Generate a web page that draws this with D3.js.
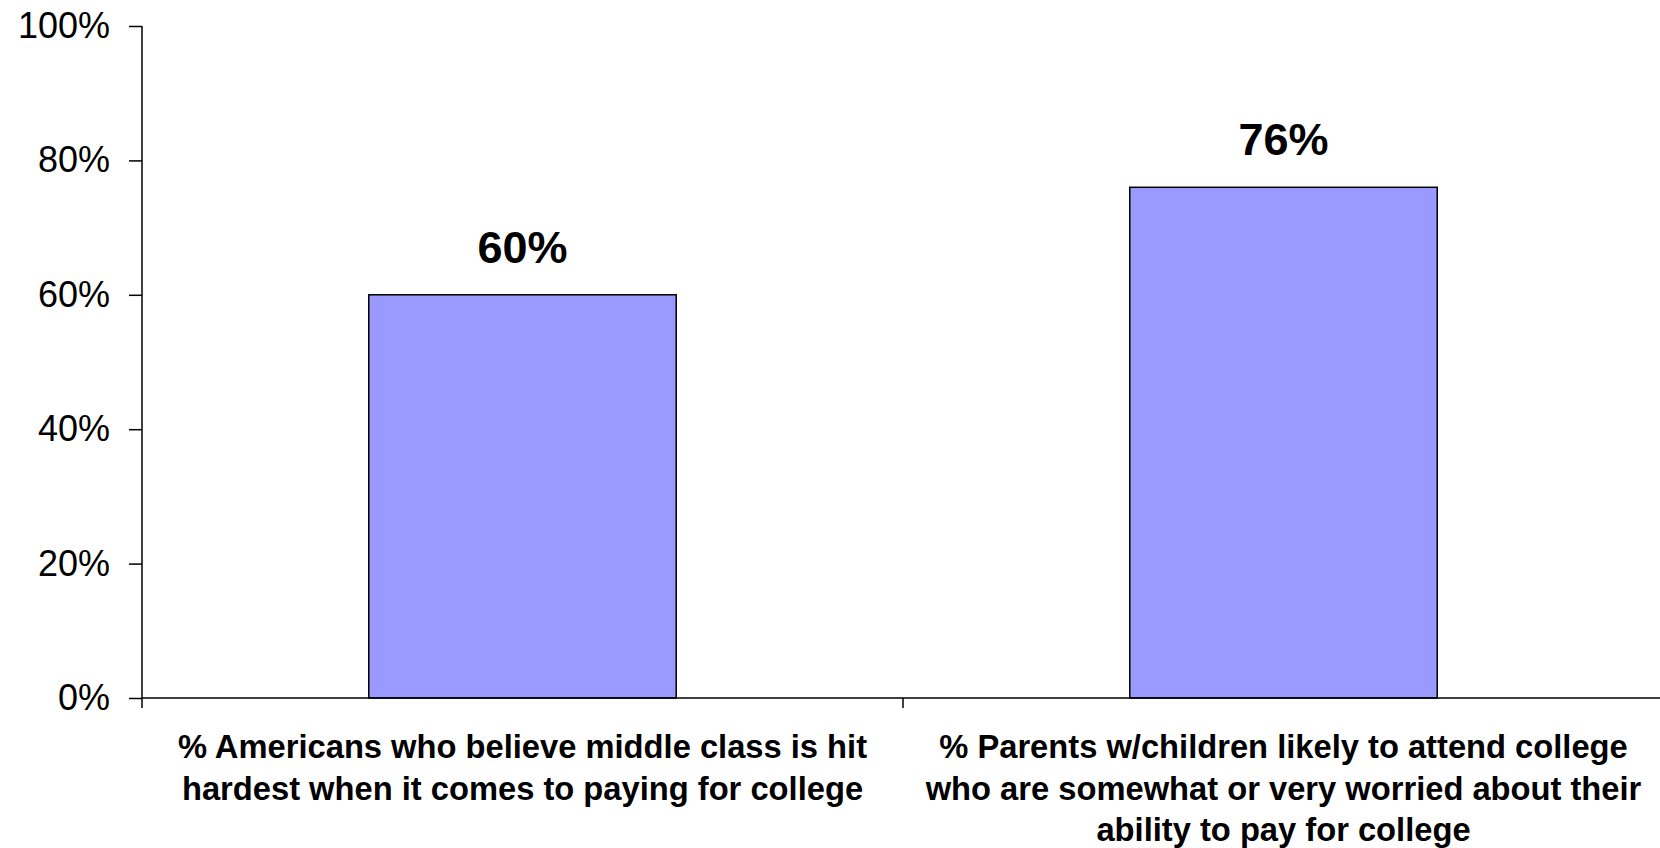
<!DOCTYPE html>
<html>
<head>
<meta charset="utf-8">
<script src="https://cdn.jsdelivr.net/npm/d3@7"></script>
<style>
  body { margin: 0; background: #fff; }
  svg { display: block; font-family: "Liberation Sans", Arial, sans-serif; }
</style>
</head>
<body>
<svg id="chart" width="1660" height="848"></svg>
<script>
// data
const categories = [
    ["% Americans who believe middle class is hit", "hardest when it comes to paying for college"],
    ["% Parents w/children likely to attend college", "who are somewhat or very worried about their", "ability to pay for college"]
];
const values = [0.60, 0.76];
const yTicks = [0, 0.2, 0.4, 0.6, 0.8, 1.0];

const svg = d3.select("#chart");
const plotLeft = 142, plotRight = 1664, plotTop = 26, plotBottom = 698;

const x = d3.scaleBand()
    .domain(d3.range(values.length))
    .range([plotLeft, plotRight])
    .paddingInner(0.596)
    .paddingOuter(0.298);

const y = d3.scaleLinear()
    .domain([0, 1])
    .range([plotBottom, plotTop]);

// y axis
const yAxis = svg.append("g")
    .attr("transform", `translate(${plotLeft},0)`)
    .call(d3.axisLeft(y).tickValues(yTicks).tickFormat(d3.format(".0%")).tickSize(13).tickPadding(19));
yAxis.select(".domain").attr("d", `M0,${plotTop}V${plotBottom + 10}`).attr("stroke-width", 1.5);
yAxis.selectAll(".tick line").attr("stroke-width", 1.5);
yAxis.selectAll(".tick text")
    .attr("font-size", 36)
    .attr("font-family", "Liberation Sans, Arial, sans-serif")
    .attr("fill", "#000");

// bars
svg.append("g")
    .selectAll("rect")
    .data(values)
    .enter().append("rect")
    .attr("x", (d, i) => x(i))
    .attr("y", d => y(d))
    .attr("width", x.bandwidth())
    .attr("height", d => y(0) - y(d))
    .attr("fill", "#9999ff")
    .attr("stroke", "#000")
    .attr("stroke-width", 1.5);

// x axis line and separators
const step = x.step();
svg.append("line")
    .attr("x1", plotLeft).attr("x2", plotRight)
    .attr("y1", plotBottom).attr("y2", plotBottom)
    .attr("stroke", "#000").attr("stroke-width", 1.5);
svg.append("g")
    .selectAll("line")
    .data(d3.range(1, values.length))
    .enter().append("line")
    .attr("x1", i => plotLeft + i * step).attr("x2", i => plotLeft + i * step)
    .attr("y1", plotBottom).attr("y2", plotBottom + 10)
    .attr("stroke", "#000").attr("stroke-width", 1.5);

// value labels
svg.append("g")
    .selectAll("text")
    .data(values)
    .enter().append("text")
    .attr("x", (d, i) => x(i) + x.bandwidth() / 2)
    .attr("y", d => y(d) - 32)
    .attr("text-anchor", "middle")
    .attr("font-size", 45)
    .attr("font-weight", "bold")
    .text(d => d3.format(".0%")(d));

// category labels
const catText = svg.append("g")
    .selectAll("text")
    .data(categories)
    .enter().append("text")
    .attr("text-anchor", "middle")
    .attr("font-size", 32.7)
    .attr("font-weight", "bold");
catText.selectAll("tspan")
    .data((d, i) => d.map(line => ({ line, i })))
    .enter().append("tspan")
    .attr("x", d => x(d.i) + x.bandwidth() / 2)
    .attr("y", (d, j) => 758 + j * 41.5)
    .text(d => d.line);
</script>
</body>
</html>
